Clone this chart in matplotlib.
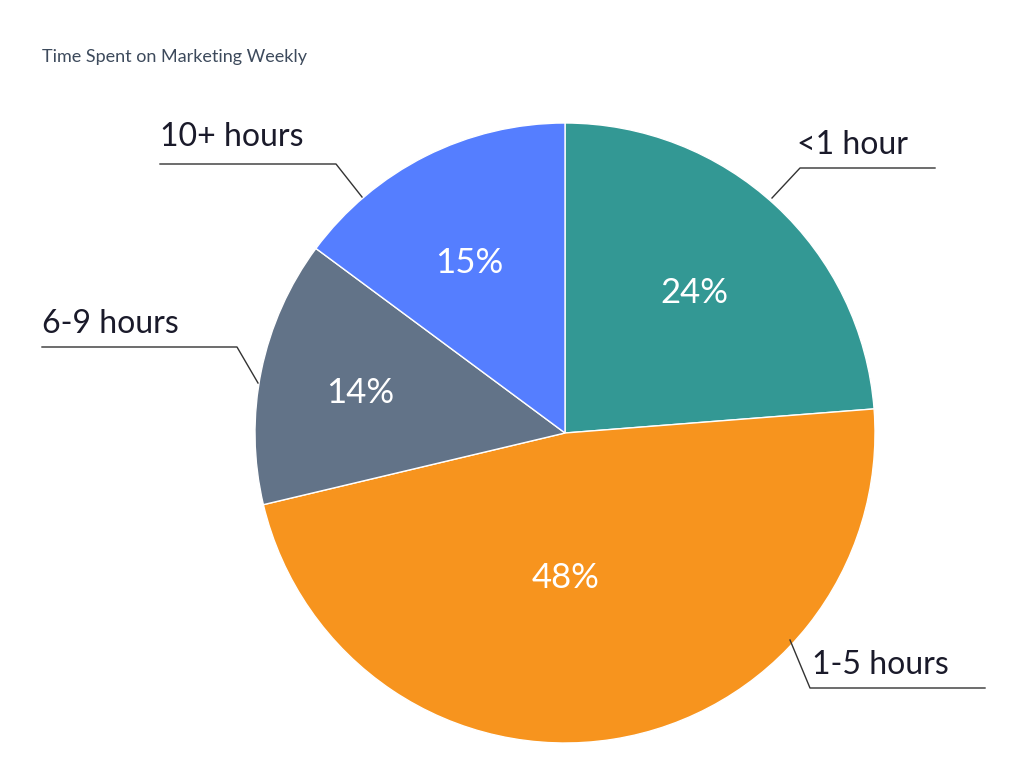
import matplotlib
matplotlib.use("Agg")
import matplotlib.pyplot as plt

categories = ["<1 hour", "1-5 hours", "6-9 hours", "10+ hours"]
values = [24, 48, 14, 15]
pct_labels = ["24%", "48%", "14%", "15%"]
colors = ["#339894", "#F7941E", "#627388", "#557EFF"]

# layout (pixel positions in the 1024x768 canvas)
CX, CY, R = 565, 433, 310
leaders = [[(772, 198), (800, 168), (935, 168)],
           [(790, 640), (810, 688), (985, 688)],
           [(258, 383), (237, 347), (42, 347)],
           [(362, 197), (336, 164), (160, 164)]]
label_pos = [(797, 160), (812, 680), (42, 339), (160, 152)]
pct_pos = [(694, 293), (566, 578), (360, 393), (469, 263)]

def d(p):
    return ((p[0] - CX) / R, (CY - p[1]) / R)

plt.rcParams["font.family"] = "Lato"
fig = plt.figure(figsize=(10.24, 7.68), dpi=100)
ax = fig.add_axes([(CX - R) / 1024, (768 - CY - R) / 768, 2 * R / 1024, 2 * R / 768])
ax.pie(values, colors=colors, startangle=90, counterclock=False,
       wedgeprops=dict(edgecolor="white", linewidth=1), radius=1)
ax.set_xlim(-1, 1); ax.set_ylim(-1, 1); ax.set_aspect("equal"); ax.axis("off")

for cat, pts, lp in zip(categories, leaders, label_pos):
    xs, ys = zip(*[d(p) for p in pts])
    ax.plot(xs, ys, color="#333333", lw=1, clip_on=False)
    x, y = d(lp)
    ax.text(x, y, cat, fontsize=23, color="#1a1a2a", ha="left", va="bottom", clip_on=False)

for t, p in zip(pct_labels, pct_pos):
    x, y = d(p)
    ax.text(x, y, t, fontsize=25, color="white", ha="center", va="center")

fig.text(42 / 1024, 1 - 57 / 768, "Time Spent on Marketing Weekly", fontsize=13,
         color="#3d4a5c", ha="left", va="center")
fig.savefig("out.png", dpi=100, facecolor="white")
